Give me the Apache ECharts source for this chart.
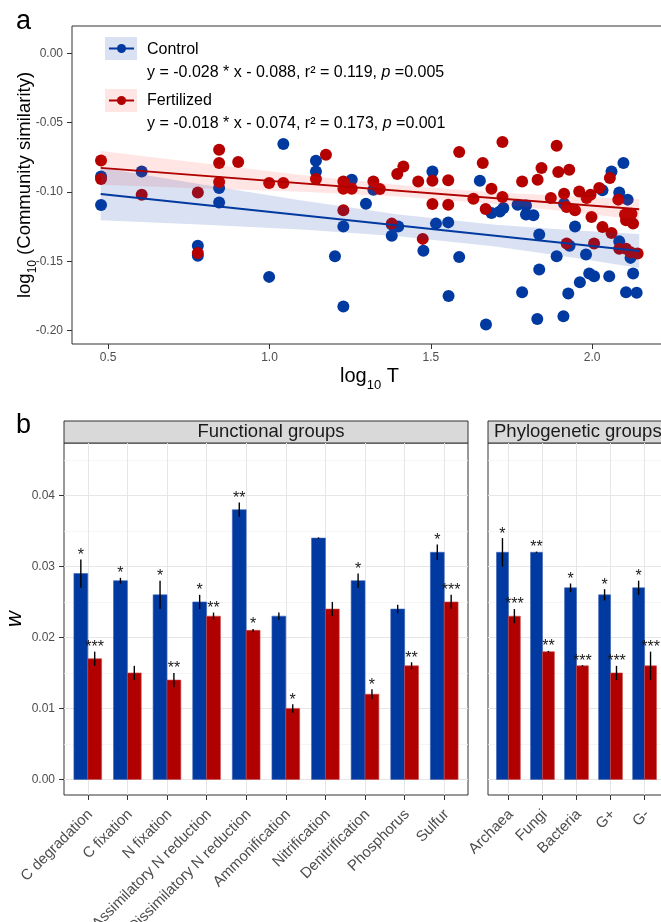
<!DOCTYPE html>
<html>
<head>
<meta charset="utf-8">
<script src="https://cdn.jsdelivr.net/npm/echarts@6/dist/echarts.min.js"></script>
<style>
  html, body { margin: 0; padding: 0; background: #fff; }
  #chart { width: 661px; height: 922px; }
</style>
</head>
<body>
<div id="chart"></div>
<script>
// ---- panel a: log10 T vs log10 community similarity ----
const ctrlPoints = [
  [0.478,-0.0888],[0.478,-0.1094],[0.604,-0.0852],[0.778,-0.1387],[0.778,-0.1459],
  [0.844,-0.0971],[0.844,-0.1075],[0.999,-0.1612],[1.043,-0.0654],[1.144,-0.0775],
  [1.144,-0.0852],[1.203,-0.1464],[1.229,-0.1248],[1.229,-0.1826],[1.255,-0.0911],
  [1.299,-0.1084],[1.322,-0.0983],[1.379,-0.1235],[1.379,-0.1315],[1.399,-0.1248],
  [1.477,-0.1423],[1.505,-0.0852],[1.516,-0.1228],[1.554,-0.1219],[1.555,-0.1750],
  [1.588,-0.1468],[1.652,-0.0919],[1.671,-0.1955],[1.688,-0.1151],[1.714,-0.1140],
  [1.725,-0.1115],[1.769,-0.1092],[1.783,-0.1723],[1.795,-0.1097],[1.795,-0.1163],
  [1.818,-0.1168],[1.830,-0.1915],[1.836,-0.1307],[1.836,-0.1559],[1.890,-0.1464],
  [1.911,-0.1896],[1.913,-0.1084],[1.926,-0.1732],[1.930,-0.1387],[1.947,-0.1248],
  [1.962,-0.1651],[1.981,-0.1451],[1.991,-0.1588],[2.006,-0.1608],[2.032,-0.0988],
  [2.053,-0.1608],[2.060,-0.0852],[2.084,-0.1003],[2.084,-0.1356],[2.097,-0.0791],
  [2.105,-0.1723],[2.110,-0.1055],[2.119,-0.1475],[2.127,-0.1588],[2.138,-0.1727]
];
const fertPoints = [
  [0.478,-0.0773],[0.478,-0.0906],[0.604,-0.1019],[0.778,-0.1003],[0.778,-0.1439],
  [0.844,-0.0695],[0.844,-0.0791],[0.844,-0.0928],[0.903,-0.0784],[0.999,-0.0935],
  [1.043,-0.0935],[1.144,-0.0906],[1.175,-0.0731],[1.229,-0.0924],[1.229,-0.0976],
  [1.229,-0.1132],[1.255,-0.0976],[1.322,-0.0924],[1.342,-0.0978],[1.379,-0.1228],
  [1.396,-0.0870],[1.415,-0.0816],[1.461,-0.0924],[1.475,-0.1338],[1.505,-0.0919],
  [1.505,-0.1087],[1.554,-0.0916],[1.554,-0.1092],[1.588,-0.0712],[1.632,-0.1048],
  [1.661,-0.0791],[1.670,-0.1122],[1.688,-0.0976],[1.722,-0.0640],[1.722,-0.1036],
  [1.783,-0.0924],[1.831,-0.0911],[1.843,-0.0827],[1.872,-0.1043],[1.890,-0.0667],
  [1.895,-0.0856],[1.913,-0.1012],[1.921,-0.1108],[1.921,-0.1372],[1.929,-0.0839],
  [1.947,-0.1132],[1.960,-0.0996],[1.983,-0.1043],[1.995,-0.1019],[1.998,-0.1180],
  [2.006,-0.1372],[2.022,-0.0971],[2.032,-0.1252],[2.055,-0.0899],[2.060,-0.1295],
  [2.081,-0.1055],[2.084,-0.1410],[2.102,-0.1163],[2.105,-0.1204],[2.105,-0.1410],
  [2.119,-0.1435],[2.122,-0.1156],[2.127,-0.1228],[2.141,-0.1444]
];
// fitted lines (end points) and confidence bands
const ctrlFit = [[0.477,-0.1014],[2.146,-0.1425]];
const fertFit = [[0.477,-0.0826],[2.146,-0.1125]];
const bandX      = [0.477, 0.8, 1.1, 1.4, 1.7, 1.95, 2.146];
const ctrlBandLo = [-0.1204,-0.1236,-0.1271,-0.1319,-0.1393,-0.1475,-0.1548];
const ctrlBandHi = [-0.0824,-0.0950,-0.1062,-0.1163,-0.1237,-0.1277,-0.1302];
const fertBandLo = [-0.0948,-0.0974,-0.0999,-0.1032,-0.1086,-0.1147,-0.1200];
const fertBandHi = [-0.0704,-0.0794,-0.0877,-0.0950,-0.1004,-0.1033,-0.1050];
const aXTicks = [0.5, 1.0, 1.5, 2.0];
const aYTicks = [-0.20, -0.15, -0.10, -0.05, 0.00];

// ---- panel b: w by group ----
const funcCats = ['C degradation','C fixation','N fixation','Assimilatory N reduction','Dissimilatory N reduction',
                  'Ammonification','Nitrification','Denitrification','Phosphorus','Sulfur'];
const funcCtrl    = [0.029, 0.028, 0.026, 0.025, 0.038, 0.023, 0.034, 0.028, 0.024, 0.032];
const funcCtrlErr = [0.002, 0.0004, 0.002, 0.001, 0.001, 0.0005, 0.0001, 0.001, 0.0006, 0.0011];
const funcCtrlSig = ['*','*','*','*','**','','','*','','*'];
const funcFert    = [0.017, 0.015, 0.014, 0.023, 0.021, 0.010, 0.024, 0.012, 0.016, 0.025];
const funcFertErr = [0.001, 0.001, 0.001, 0.0005, 0.0002, 0.0006, 0.001, 0.0007, 0.0005, 0.001];
const funcFertSig = ['***','','**','**','*','*','','*','**','***'];

const phyloCats = ['Archaea','Fungi','Bacteria','G+','G-'];
const phyloCtrl    = [0.032, 0.032, 0.027, 0.026, 0.027];
const phyloCtrlErr = [0.002, 0.0001, 0.0006, 0.0008, 0.001];
const phyloCtrlSig = ['*','**','*','*','*'];
const phyloFert    = [0.023, 0.018, 0.016, 0.015, 0.016];
const phyloFertErr = [0.001, 0.0001, 0.0001, 0.001, 0.002];
const phyloFertSig = ['***','**','***','***','***'];

const bYTicks = [0, 0.01, 0.02, 0.03, 0.04];
const bYMinor = [0.005, 0.015, 0.025, 0.035, 0.045];

const BLUE = '#0039A0';
const RED = '#B00000';
const FONT = 'Liberation Sans, Arial, sans-serif';
const TICK_COL = '#4D4D4D';
const BLUE_BAND = 'rgba(30,75,180,0.17)';
const RED_BAND = 'rgba(255,40,30,0.12)';

const chart = echarts.init(document.getElementById('chart'));

function bandSeries(lo, hi, color) {
  return {
    type: 'custom', xAxisIndex: 0, yAxisIndex: 0, z: 3, silent: true,
    data: [[bandX[0], lo[0]]],
    renderItem: (params, api) => {
      const top = bandX.map((x, i) => api.coord([x, hi[i]]));
      const bot = bandX.map((x, i) => api.coord([x, lo[i]])).reverse();
      return { type: 'polygon', shape: { points: top.concat(bot) }, style: { fill: color } };
    }
  };
}

function barSeries(axisIdx, yIdx, ctrl, ctrlErr, ctrlSig, fert, fertErr, fertSig) {
  const data = ctrl.map((v, i) => [i, v, ctrlErr[i], fert[i], fertErr[i]]);
  const groups = [
    { off: -0.35, vi: 1, ei: 2, fill: BLUE, edge: '#3a62b8', sig: ctrlSig },
    { off: 0,     vi: 3, ei: 4, fill: RED,  edge: '#d04a4a', sig: fertSig }
  ];
  return {
    type: 'custom', xAxisIndex: axisIdx, yAxisIndex: yIdx, z: 3, silent: true,
    data: data,
    renderItem: (params, api) => {
      const i = api.value(0);
      const children = [];
      groups.forEach(g => {
        const v = api.value(g.vi), e = api.value(g.ei);
        const p0 = api.coord([i + g.off, v]);
        const p1 = api.coord([i + g.off + 0.35, 0]);
        children.push({
          type: 'rect',
          shape: { x: p0[0], y: p0[1], width: p1[0] - p0[0], height: p1[1] - p0[1] },
          style: { fill: g.fill, stroke: g.edge, lineWidth: 0.6 }
        });
        const cx = i + g.off + 0.175;
        const t = api.coord([cx, v + e]);
        const b = api.coord([cx, v - e]);
        children.push({
          type: 'line', shape: { x1: t[0], y1: t[1], x2: b[0], y2: b[1] },
          style: { stroke: '#000', lineWidth: 1.4 }
        });
        const s = g.sig[params.dataIndex];
        if (s) {
          children.push({
            type: 'text', x: t[0], y: t[1] - 4,
            style: { text: s, fill: '#1a1a1a', fontSize: 16, fontFamily: FONT, align: 'center', verticalAlign: 'middle' }
          });
        }
      });
      return { type: 'group', children: children };
    }
  };
}

const gridLine = { show: true, lineStyle: { color: '#E6E6E6', width: 1 } };
const minorLine = { show: true, lineStyle: { color: '#F1F1F1', width: 0.7 } };
const noLine = { show: false, onZero: false };
const hidden = { show: false };
const panel = { show: true, borderColor: '#333', borderWidth: 1, backgroundColor: '#fff', containLabel: false, outerBoundsMode: 'none' };

const option = {
  animation: false,
  textStyle: { fontFamily: FONT },
  grid: [
    Object.assign({ left: 72, top: 26, width: 595, height: 318 }, panel),
    Object.assign({ left: 64, top: 443, width: 404, height: 352 }, panel),
    Object.assign({ left: 488, top: 443, width: 177, height: 352 }, panel)
  ],
  xAxis: [
    {
      gridIndex: 0, type: 'value', min: 0.388, max: 2.232,
      axisLine: noLine, splitLine: hidden,
      axisTick: { show: true, length: 5, customValues: aXTicks, lineStyle: { color: '#333' } },
      axisLabel: { customValues: aXTicks, margin: 8, color: TICK_COL, fontSize: 12, formatter: v => v.toFixed(1) },
      name: '{t|log}{s|10}{t| T}', nameLocation: 'middle', nameGap: 22, nameMoveOverlap: false,
      nameTextStyle: { rich: {
        t: { fontSize: 20, color: '#000', fontFamily: FONT },
        s: { fontSize: 13, color: '#000', fontFamily: FONT, verticalAlign: 'bottom', padding: [0, 0, -6, 0] }
      } }
    },
    {
      gridIndex: 1, type: 'value', min: -0.6, max: 9.6,
      axisLine: noLine,
      axisTick: { show: true, length: 5, customValues: funcCats.map((c, i) => i), lineStyle: { color: '#333' } },
      axisLabel: { customValues: funcCats.map((c, i) => i), rotate: 45, margin: 9, padding: [0, 4, 0, 0], verticalAlign: 'top',
                   color: TICK_COL, fontSize: 15, formatter: v => funcCats[Math.round(v)] },
      splitLine: gridLine
    },
    {
      gridIndex: 2, type: 'value', min: -0.6, max: 4.6,
      axisLine: noLine,
      axisTick: { show: true, length: 5, customValues: phyloCats.map((c, i) => i), lineStyle: { color: '#333' } },
      axisLabel: { customValues: phyloCats.map((c, i) => i), rotate: 45, margin: 9, padding: [0, 4, 0, 0], verticalAlign: 'top',
                   color: TICK_COL, fontSize: 15, formatter: v => phyloCats[Math.round(v)] },
      splitLine: gridLine
    }
  ],
  yAxis: [
    {
      gridIndex: 0, type: 'value', min: -0.2096, max: 0.0197,
      axisLine: noLine, splitLine: hidden,
      axisTick: { show: true, length: 5, customValues: aYTicks, lineStyle: { color: '#333' } },
      axisLabel: { customValues: aYTicks, margin: 9, color: TICK_COL, fontSize: 12, formatter: v => v.toFixed(2) },
      name: '{t|log}{s|10}{t| (Community similarity)}', nameLocation: 'middle', nameGap: 38, nameRotate: 90,
      nameMoveOverlap: false,
      nameTextStyle: { rich: {
        t: { fontSize: 18.5, color: '#000', fontFamily: FONT },
        s: { fontSize: 12, color: '#000', fontFamily: FONT, verticalAlign: 'bottom', padding: [0, 0, -5, 0] }
      } }
    },
    {
      gridIndex: 1, type: 'value', min: -0.0022, max: 0.0474,
      axisLine: noLine,
      axisTick: { show: true, length: 5, customValues: bYTicks, lineStyle: { color: '#333' } },
      axisLabel: { customValues: bYTicks, margin: 9, color: TICK_COL, fontSize: 12, formatter: v => v.toFixed(2) },
      splitLine: gridLine,
      name: 'w', nameLocation: 'middle', nameGap: 38, nameRotate: 90, nameMoveOverlap: false,
      nameTextStyle: { fontSize: 22, fontStyle: 'italic', color: '#000', fontFamily: FONT }
    },
    {
      gridIndex: 1, type: 'value', min: -0.0022, max: 0.0474,
      axisLine: noLine, axisLabel: hidden,
      axisTick: { show: false, customValues: bYMinor },
      splitLine: minorLine
    },
    {
      gridIndex: 2, type: 'value', min: -0.0022, max: 0.0474,
      axisLine: noLine, axisLabel: { show: false, customValues: bYTicks },
      axisTick: { show: false, customValues: bYTicks },
      splitLine: gridLine
    },
    {
      gridIndex: 2, type: 'value', min: -0.0022, max: 0.0474,
      axisLine: noLine, axisLabel: hidden,
      axisTick: { show: false, customValues: bYMinor },
      splitLine: minorLine
    }
  ],
  series: [
    { type: 'scatter', xAxisIndex: 0, yAxisIndex: 0, z: 2, data: ctrlPoints, symbolSize: 12, itemStyle: { color: BLUE, opacity: 1 } },
    { type: 'scatter', xAxisIndex: 0, yAxisIndex: 0, z: 2, data: fertPoints, symbolSize: 12, itemStyle: { color: '#B50000', opacity: 1 } },
    bandSeries(fertBandLo, fertBandHi, RED_BAND),
    bandSeries(ctrlBandLo, ctrlBandHi, BLUE_BAND),
    { type: 'line', xAxisIndex: 0, yAxisIndex: 0, z: 4, data: ctrlFit, showSymbol: false, lineStyle: { color: BLUE, width: 2 } },
    { type: 'line', xAxisIndex: 0, yAxisIndex: 0, z: 4, data: fertFit, showSymbol: false, lineStyle: { color: RED, width: 2 } },
    barSeries(1, 1, funcCtrl, funcCtrlErr, funcCtrlSig, funcFert, funcFertErr, funcFertSig),
    barSeries(2, 3, phyloCtrl, phyloCtrlErr, phyloCtrlSig, phyloFert, phyloFertErr, phyloFertSig)
  ],
  graphic: [
    { type: 'text', left: 16, top: 8, style: { text: 'a', fontSize: 27, fill: '#000', fontFamily: FONT } },
    { type: 'text', left: 16, top: 412, style: { text: 'b', fontSize: 27, fill: '#000', fontFamily: FONT } },
    // legend of panel a
    { type: 'rect', shape: { x: 105, y: 37, width: 32, height: 23 }, style: { fill: BLUE_BAND } },
    { type: 'line', shape: { x1: 109, y1: 48.5, x2: 134, y2: 48.5 }, style: { stroke: BLUE, lineWidth: 2 } },
    { type: 'circle', shape: { cx: 121.5, cy: 48.5, r: 4.5 }, style: { fill: BLUE } },
    { type: 'text', x: 147, y: 50, style: { text: 'Control', fontSize: 16, fill: '#000', fontFamily: FONT, verticalAlign: 'middle' } },
    { type: 'text', x: 147, y: 73, style: { text: 'y = -0.028 * x - 0.088, r² = 0.119, {i|p} =0.005', fontSize: 16, fill: '#000', fontFamily: FONT, verticalAlign: 'middle',
        rich: { i: { fontStyle: 'italic', fontSize: 16, fontFamily: FONT } } } },
    { type: 'rect', shape: { x: 105, y: 89, width: 32, height: 23 }, style: { fill: RED_BAND } },
    { type: 'line', shape: { x1: 109, y1: 100.5, x2: 134, y2: 100.5 }, style: { stroke: RED, lineWidth: 2 } },
    { type: 'circle', shape: { cx: 121.5, cy: 100.5, r: 4.5 }, style: { fill: RED } },
    { type: 'text', x: 147, y: 101, style: { text: 'Fertilized', fontSize: 16, fill: '#000', fontFamily: FONT, verticalAlign: 'middle' } },
    { type: 'text', x: 147, y: 124, style: { text: 'y = -0.018 * x - 0.074, r² = 0.173, {i|p} =0.001', fontSize: 16, fill: '#000', fontFamily: FONT, verticalAlign: 'middle',
        rich: { i: { fontStyle: 'italic', fontSize: 16, fontFamily: FONT } } } },
    // facet strips
    { type: 'rect', shape: { x: 64, y: 421, width: 404, height: 22 }, style: { fill: '#D9D9D9', stroke: '#333', lineWidth: 1 } },
    { type: 'text', x: 271, y: 432, style: { text: 'Functional groups', fontSize: 18.5, fill: '#1a1a1a', fontFamily: FONT, align: 'center', verticalAlign: 'middle' } },
    { type: 'rect', shape: { x: 488, y: 421, width: 177, height: 22 }, style: { fill: '#D9D9D9', stroke: '#333', lineWidth: 1 } },
    { type: 'text', x: 494, y: 432, style: { text: 'Phylogenetic groups', fontSize: 18.5, fill: '#1a1a1a', fontFamily: FONT, verticalAlign: 'middle' } }
  ]
};

chart.setOption(option);
window.addEventListener('resize', () => chart.resize());
</script>
</body>
</html>
